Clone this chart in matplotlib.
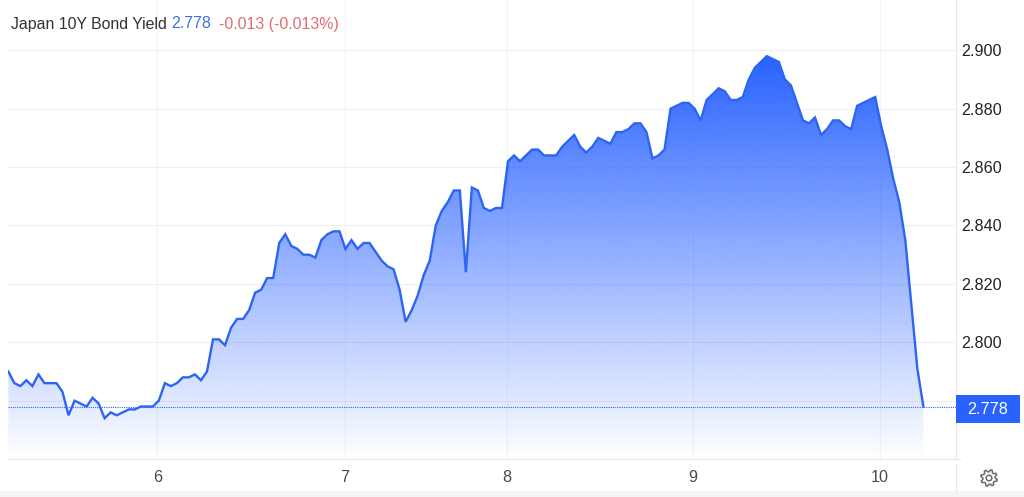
# -*- coding: utf-8 -*-
import numpy as np
import matplotlib
matplotlib.use('Agg')
import matplotlib.pyplot as plt
from matplotlib.patches import Rectangle, Polygon, Circle
from matplotlib.lines import Line2D
from matplotlib.transforms import blended_transform_factory

plt.rcParams['font.family'] = ['Liberation Sans', 'DejaVu Sans']

# yield readings, one every half hour of trading, left to right
yields = [
    2.790, 2.786, 2.785, 2.787, 2.785, 2.789, 2.786, 2.786, 2.786, 2.783,
    2.775, 2.780, 2.779, 2.778, 2.781, 2.779, 2.774, 2.776, 2.775, 2.776,
    2.777, 2.777, 2.778, 2.778, 2.778, 2.780, 2.786, 2.785, 2.786, 2.788,
    2.788, 2.789, 2.787, 2.790, 2.801, 2.801, 2.799, 2.805, 2.808, 2.808,
    2.811, 2.817, 2.818, 2.822, 2.822, 2.834, 2.837, 2.833, 2.832, 2.830,
    2.830, 2.829, 2.835, 2.837, 2.838, 2.838, 2.832, 2.835, 2.832, 2.834,
    2.834, 2.831, 2.828, 2.826, 2.825, 2.818, 2.807, 2.811, 2.816, 2.823,
    2.828, 2.840, 2.845, 2.848, 2.852, 2.852, 2.824, 2.853, 2.852, 2.846,
    2.845, 2.846, 2.846, 2.862, 2.864, 2.862, 2.864, 2.866, 2.866, 2.864,
    2.864, 2.864, 2.867, 2.869, 2.871, 2.867, 2.865, 2.867, 2.870, 2.869,
    2.868, 2.872, 2.872, 2.873, 2.875, 2.875, 2.872, 2.863, 2.864, 2.866,
    2.880, 2.881, 2.882, 2.882, 2.880, 2.876, 2.883, 2.885, 2.887, 2.886,
    2.883, 2.883, 2.884, 2.890, 2.894, 2.896, 2.898, 2.897, 2.896, 2.890,
    2.888, 2.882, 2.876, 2.875, 2.877, 2.871, 2.873, 2.876, 2.876, 2.874,
    2.873, 2.881, 2.882, 2.883, 2.884, 2.874, 2.866, 2.856, 2.848, 2.835,
    2.813, 2.791, 2.778,
]
day_labels = ['6', '7', '8', '9', '10']
day_starts = [24.75, 55.9, 82.8, 113.7, 144.8]  # sessions are not equal length
price_ticks = [2.78, 2.80, 2.82, 2.84, 2.86, 2.88, 2.90]
last_price = 2.778

W, H = 1024, 497
BLUE = '#2962ff'
LINE_BLUE = '#2c64f4'

fig = plt.figure(figsize=(W / 100, H / 100), dpi=100, facecolor='white')
ax = fig.add_axes([8 / W, 1 - 459 / H, 948 / W, 459 / H])

x = np.arange(len(yields))

# gradient fill under the line, clipped to the area
area = ax.fill_between(x, yields, 2.76003, facecolor='none', edgecolor='none')
grad = np.zeros((256, 1, 4))
grad[:, :, :3] = matplotlib.colors.to_rgb(BLUE)
grad[:, 0, 3] = np.linspace(1, 0, 256)
img = ax.imshow(grad, extent=[x[0], x[-1], 2.76003, max(yields)], aspect='auto',
                origin='upper', interpolation='bilinear', zorder=1.5)
img.set_clip_path(area.get_paths()[0], ax.transData)
ax.set_xlim((8 - 8.33) / 6.02, (956 - 8.33) / 6.02)
ax.set_ylim(2.76003, 2.91723)

ax.plot(x, yields, color=LINE_BLUE, lw=1.7, solid_joinstyle='miter', zorder=3)
ax.axhline(last_price, color=BLUE, lw=0.8, ls=(0, (1, 1)), zorder=3)

ax.set_axisbelow(True)
ax.set_xticks(day_starts)
ax.set_xticklabels(day_labels)
ax.set_yticks(price_ticks)
ax.set_yticklabels(['{:.3f}'.format(p) for p in price_ticks])
ax.yaxis.tick_right()
ax.grid(True, axis='x', color='#f0f3fa', lw=0.75)
ax.grid(True, axis='y', color='#eeeff2', lw=0.75)
ax.tick_params(axis='x', length=0, pad=8, labelsize=11.6, labelcolor='#4a4a4a')
ax.tick_params(axis='y', length=0, pad=4, labelsize=11.6, labelcolor='#222222')
for label in ax.get_yticklabels():
    label.set_y(label.get_position()[1])
for s in ['top', 'left']:
    ax.spines[s].set_visible(False)
for s in ['bottom', 'right']:
    ax.spines[s].set_color('#e4e6ea')
    ax.spines[s].set_linewidth(0.8)

# last price tag on the price scale
trans = blended_transform_factory(ax.transAxes, ax.transData)
tag = Rectangle((1, 2.7725), 64 / 948, 0.0095, transform=trans, facecolor=BLUE,
                edgecolor='none', clip_on=False, zorder=10)
ax.add_patch(tag)
ax.text(1 + 32 / 948, 2.7771, '{:.3f}'.format(last_price), transform=trans, color='white',
        fontsize=11.6, ha='center', va='center', zorder=11)

# header
fig.text(11 / W, 1 - 24 / H, 'Japan 10Y Bond Yield', color='#333333', fontsize=11.45, va='center')
fig.text(171 / W, 1 - 24 / H, '2.778', color='#3f6fe8', fontsize=11.45, va='center')
fig.text(219 / W, 1 - 24 / H, '-0.013 (-0.013%)', color='#e06c6c', fontsize=11.45, va='center')

# rest of the frame
fig.add_artist(Line2D([956 / W, 956 / W], [1 - 491 / H, 1 - 465 / H], color='#e4e6ea', lw=0.8))
fig.add_artist(Line2D([956 / W, 960 / W], [1 - 459 / H, 1 - 459 / H], color='#e4e6ea', lw=0.8))
fig.add_artist(Rectangle((0, 0), 1, 6 / H, transform=fig.transFigure, facecolor='#f5f5f5',
                         edgecolor='none'))

# settings gear
cx, cy = 989, 478
ang = np.linspace(0, 2 * np.pi, 8 * 4, endpoint=False) + np.pi / 16
rad = np.tile([8.3, 8.3, 6.2, 6.2], 8)
pts = np.c_[(cx + rad * np.cos(ang)) / W, 1 - (cy + rad * np.sin(ang)) / H]
fig.add_artist(Polygon(pts, closed=True, transform=fig.transFigure, facecolor='white',
                       edgecolor='#6b6b6b', lw=1.1))
fig.add_artist(Circle((cx, H - cy), 2.8, transform=None, facecolor='white',
                      edgecolor='#6b6b6b', lw=1.1))

fig.savefig('out.png', dpi=100)
